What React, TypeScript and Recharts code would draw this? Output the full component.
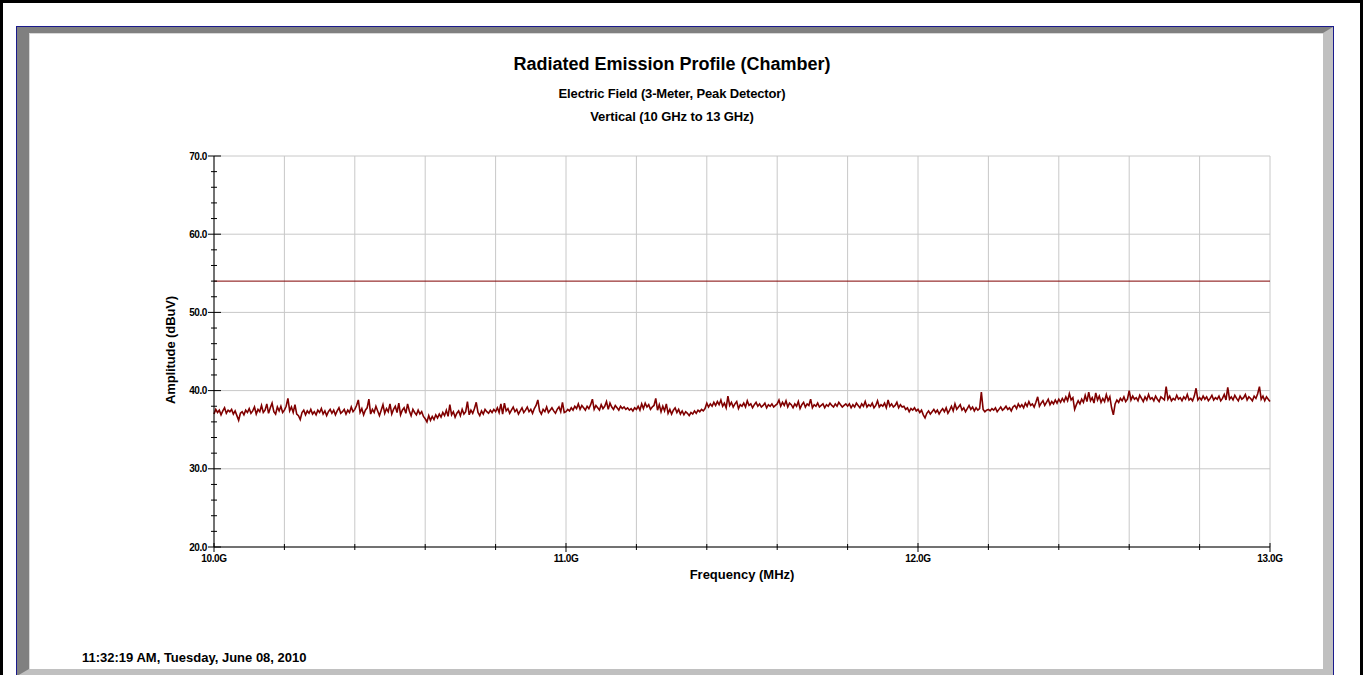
import { LineChart, Line, XAxis, YAxis, CartesianGrid, ReferenceLine } from "recharts";

// sweep: 10 GHz to 13 GHz, one reading every 5 MHz
const FREQ_START = 10.0;
const FREQ_STEP = 0.005;

// peak amplitude (dBuV), one array per 200 MHz band
const amp10_0 = [
  37.0, 37.6, 37.2, 37.5, 36.9, 37.4, 37.8, 37.1, 37.5, 37.3,
  37.6, 37.0, 37.4, 36.8, 36.2, 37.1, 37.3, 36.9, 37.5, 37.2,
  37.7, 37.1, 37.4, 37.9, 37.0, 37.6, 37.3, 38.1, 37.2, 37.5,
  38.3, 37.1, 37.8, 38.4, 37.3, 37.0, 37.9, 37.4, 38.0, 37.2,
];
const amp10_2 = [
  37.5, 38.0, 39.0, 37.4, 37.9, 37.2, 38.2, 37.0, 36.8, 36.3,
  37.2, 37.5, 36.9, 37.4, 37.1, 37.6, 37.0, 37.3, 36.9, 37.5,
  37.2, 37.7, 37.0, 37.4, 36.8, 37.3, 37.6, 37.1, 37.5, 36.9,
  37.4, 37.8, 37.1, 37.3, 37.6, 37.0, 37.5, 37.2, 37.9, 37.3,
];
const amp10_4 = [
  37.6, 38.1, 38.8, 37.2, 37.7, 36.9, 37.5, 37.8, 38.9, 37.0,
  37.6, 37.2, 38.0, 37.4, 36.8, 37.5, 38.2, 37.1, 37.7, 37.3,
  38.3, 37.0, 37.6, 38.0, 37.2, 38.4, 36.9, 37.5, 37.8, 37.1,
  38.3, 37.4, 36.8, 37.6, 37.2, 36.9, 37.5, 37.0, 37.3, 36.7,
];
const amp10_6 = [
  36.4, 36.0, 36.8, 36.2, 36.7, 36.3, 36.9, 36.5, 37.0, 36.6,
  37.2, 36.8, 37.5, 36.7, 38.2, 36.9, 37.3, 36.6, 37.1, 37.4,
  36.8, 37.6, 37.0, 37.3, 38.6, 36.9, 37.5, 37.1, 37.7, 38.5,
  37.2, 36.8, 37.4, 37.0, 37.6, 37.3, 37.1, 37.5, 37.2, 37.6,
];
const amp10_8 = [
  37.3, 37.8, 37.2, 38.3, 37.0, 38.4, 37.4, 37.7, 37.1, 37.5,
  37.9, 37.3, 37.6, 37.0, 37.4, 37.8, 37.2, 37.5, 37.9, 37.3,
  37.6, 37.1, 37.7, 38.1, 38.8, 37.4, 37.0, 37.6, 37.3, 37.9,
  37.2, 37.5, 37.8, 37.4, 37.1, 37.6, 37.9, 37.3, 38.5, 37.2,
];
const amp11_0 = [
  37.3, 37.6, 37.4, 37.8, 37.5, 38.0, 37.7, 38.3, 37.6, 38.1,
  37.8, 37.5, 38.0, 37.7, 38.2, 38.9, 37.6, 38.1, 37.8, 37.5,
  38.2, 37.7, 38.0, 38.6, 37.6, 38.4, 37.9, 37.6, 38.1, 37.8,
  37.5, 38.0, 37.7, 37.9, 37.6, 37.8, 37.5, 37.7, 37.4, 37.8,
];
const amp11_2 = [
  37.6, 38.0, 37.5, 38.3, 37.7, 38.4, 37.9, 38.2, 37.6, 37.9,
  38.1, 39.0, 37.5, 38.2, 37.3, 38.0, 37.4, 38.3, 37.1, 37.6,
  37.0, 37.5, 37.8, 37.2, 37.6, 37.0, 37.4, 36.9, 37.3, 37.1,
  36.8, 37.2, 37.0, 37.4, 37.1, 37.5, 37.3, 37.6, 37.4, 37.7,
];
const amp11_4 = [
  38.4, 37.9, 38.3, 38.0, 38.5, 38.1, 38.6, 38.2, 38.8, 38.0,
  38.4, 37.8, 39.3, 38.1, 38.5, 37.9, 38.3, 38.6, 37.7, 38.2,
  38.0, 38.4, 37.9, 38.7, 38.1, 38.3, 37.8, 38.2, 38.5, 38.0,
  38.3, 37.9, 38.1, 38.4, 37.8, 38.2, 38.0, 38.3, 37.9, 38.1,
];
const amp11_6 = [
  38.3, 38.8, 38.0, 38.5, 38.1, 38.7, 37.9, 38.4, 38.2, 37.8,
  38.3, 38.0, 38.6, 37.7, 38.2, 38.5, 37.9, 38.3, 38.1, 38.9,
  37.8, 38.2, 38.0, 38.4, 37.9, 38.1, 38.3, 37.8, 38.2, 38.0,
  38.4, 38.1, 37.9, 38.3, 38.0, 38.5, 38.2, 37.9, 38.1, 38.3,
];
const amp11_8 = [
  38.0, 38.3, 37.8, 38.2, 37.9, 38.4, 38.1, 37.8, 38.3, 38.0,
  38.6, 37.9, 38.2, 38.0, 38.4, 37.8, 38.1, 38.7, 37.9, 38.2,
  38.0, 38.4, 37.8, 38.8, 38.0, 38.3, 37.9, 38.1, 38.5, 37.8,
  38.2, 37.9, 38.0, 37.6, 37.8, 37.3, 37.7, 37.5, 37.8, 37.4,
];
const amp12_0 = [
  37.6, 37.2, 37.5, 36.9, 36.5, 37.1, 37.4, 37.0, 37.3, 37.6,
  37.2, 37.5, 37.0, 37.4, 37.7, 37.3, 37.8, 37.1, 37.5, 38.0,
  37.4, 38.3, 37.6, 37.9, 38.2, 37.5, 37.8, 37.3, 37.7, 38.1,
  37.6, 37.9, 37.4, 37.8, 37.5, 37.7, 39.8, 37.6, 37.3, 37.5,
];
const amp12_2 = [
  37.6, 37.4, 37.7, 37.5, 37.8, 37.3, 37.6, 37.9, 37.5, 37.7,
  38.0, 37.6, 37.8, 37.4, 37.9, 38.1, 37.7, 38.3, 37.9, 38.2,
  37.8, 38.4, 38.0, 38.6, 38.1, 38.3, 37.9, 38.5, 39.2, 38.0,
  38.4, 38.7, 38.1, 38.5, 38.9, 38.2, 38.6, 38.3, 38.8, 38.4,
];
const amp12_4 = [
  38.9, 38.5, 39.0, 38.6, 39.2, 38.7, 39.6, 38.8, 39.1, 37.6,
  38.2, 38.7, 38.3, 38.9, 38.5, 39.4, 38.6, 39.8, 38.7, 39.1,
  38.4, 39.7, 38.8, 39.3, 38.5, 39.0, 38.6, 39.5, 38.7, 39.2,
  37.8, 36.9, 38.3, 38.8, 38.5, 39.0, 38.7, 39.2, 38.6, 38.9,
];
const amp12_6 = [
  40.0, 38.8, 39.3, 38.9, 39.1, 38.7, 39.4, 39.0, 38.6, 39.2,
  38.8, 39.5, 38.9, 39.1, 38.7, 39.3, 38.9, 38.6, 39.2, 39.0,
  38.8, 40.5, 38.9, 39.3, 38.7, 39.0, 38.8, 39.4, 38.9, 39.1,
  38.7, 39.2, 38.9, 39.5, 38.8, 39.0, 38.7, 39.3, 40.3, 38.8,
];
const amp12_8 = [
  39.1, 38.8, 39.3, 38.9, 39.2, 38.7, 39.0, 39.4, 38.8, 39.1,
  38.9, 39.3, 38.7, 39.0, 39.5, 38.8, 40.4, 38.9, 39.2, 38.8,
  39.4, 39.0, 38.7, 39.3, 38.9, 39.1, 39.5, 38.8, 39.2, 39.0,
  38.7, 39.3, 39.0, 39.6, 40.5, 38.9, 39.3, 38.7, 39.2, 38.9,
  38.6,
];

const LIMIT_DBUV = 54;

const X_TICKS = [10, 10.2, 10.4, 10.6, 10.8, 11, 11.2, 11.4, 11.6, 11.8, 12, 12.2, 12.4, 12.6, 12.8, 13];
const X_LABELS = [10, 11, 12, 13];
const Y_MAJOR = [20, 30, 40, 50, 60, 70];
const Y_TICKS = [
  20, 22, 24, 26, 28, 30, 32, 34, 36, 38, 40, 42, 44, 46, 48,
  50, 52, 54, 56, 58, 60, 62, 64, 66, 68, 70,
];

const sweep = [
  amp10_0, amp10_2, amp10_4, amp10_6, amp10_8,
  amp11_0, amp11_2, amp11_4, amp11_6, amp11_8,
  amp12_0, amp12_2, amp12_4, amp12_6, amp12_8,
].flat();

const data = sweep.map((amp, i) => ({ freq: FREQ_START + i * FREQ_STEP, amp }));

const FONT = "'Liberation Sans', Arial, sans-serif";
const TRACE = "#800000";

const isLabeled = (v: number) => X_LABELS.some((l) => Math.abs(l - v) < 1e-6);
const isMajorY = (v: number) => Y_MAJOR.includes(v);

function XTick(props: any) {
  const { x, y, payload } = props;
  const major = isLabeled(payload.value);
  return (
    <g>
      <line x1={x} x2={x} y1={y - (major ? 4 : 3)} y2={y + (major ? 5 : 3)} stroke="#000" strokeWidth={1} />
      {major && (
        <text
          x={x}
          y={y + 15}
          textAnchor="middle"
          fontFamily={FONT}
          fontWeight="bold"
          fontSize={10}
          letterSpacing={-0.4}
          fill="#000"
        >
          {payload.value.toFixed(1)}G
        </text>
      )}
    </g>
  );
}

function YTick(props: any) {
  const { x, y, payload } = props;
  const major = isMajorY(payload.value);
  return (
    <g>
      <line x1={x - (major ? 6 : 3)} x2={x + (major ? 7 : 3)} y1={y} y2={y} stroke="#000" strokeWidth={1} />
      {major && (
        <text
          x={x - 7}
          y={y + 3.5}
          textAnchor="end"
          fontFamily={FONT}
          fontWeight="bold"
          fontSize={10}
          letterSpacing={-0.4}
          fill="#000"
        >
          {payload.value.toFixed(1)}
        </text>
      )}
    </g>
  );
}

const centered = (top: number, size: number, spacing = 0) => ({
  position: "absolute" as const,
  left: 0,
  width: 1344,
  top,
  textAlign: "center" as const,
  fontSize: size,
  lineHeight: `${size}px`,
  letterSpacing: spacing,
  fontWeight: "bold" as const,
  whiteSpace: "nowrap" as const,
});

export default function App() {
  return (
    <div
      style={{
        position: "absolute",
        left: 0,
        top: 0,
        width: 1364,
        height: 675,
        overflow: "hidden",
        background: "#fff",
        fontFamily: FONT,
        color: "#000",
      }}
    >
      {/* outer black border */}
      <div style={{ position: "absolute", left: 0, top: 0, width: 1357, height: 720, border: "3px solid #000" }} />

      {/* bevelled frame */}
      <div
        style={{
          position: "absolute",
          left: 16,
          top: 26,
          width: 1316,
          height: 649,
          border: "1px solid #1a1a8c",
        }}
      >
        <div
          style={{
            boxSizing: "border-box",
            width: "100%",
            height: "100%",
            borderTop: "6px solid #808080",
            borderLeft: "12px solid #808080",
            borderRight: "10px solid #c0c0c0",
            borderBottom: "7px solid #c0c0c0",
          }}
        >
          <div
            style={{
              boxSizing: "border-box",
              width: "100%",
              height: "100%",
              borderTop: "1px solid #d8d8d8",
              borderLeft: "1px solid #d8d8d8",
              background: "#fff",
            }}
          />
        </div>
      </div>

      <div style={centered(55, 18)}>Radiated Emission Profile (Chamber)</div>
      <div style={centered(87, 13, -0.15)}>Electric Field (3-Meter, Peak Detector)</div>
      <div style={centered(110, 13, -0.1)}>Vertical (10 GHz to 13 GHz)</div>

      <div style={{ position: "absolute", left: 0, top: 0 }}>
        <LineChart width={1364} height={675} data={data} margin={{ top: 156, right: 94, bottom: 98, left: 164 }}>
          <CartesianGrid
            stroke="#c8c8c8"
            strokeWidth={1}
            horizontalValues={Y_MAJOR}
            verticalValues={X_TICKS}
          />
          <XAxis
            type="number"
            dataKey="freq"
            domain={[10, 13]}
            ticks={X_TICKS}
            interval={0}
            height={30}
            axisLine={{ stroke: "#000", strokeWidth: 1 }}
            tickLine={false}
            tickSize={0}
            tickMargin={0}
            tick={(p: any) => <XTick {...p} />}
          />
          <YAxis
            type="number"
            domain={[20, 70]}
            ticks={Y_TICKS}
            interval={0}
            width={50}
            axisLine={{ stroke: "#000", strokeWidth: 1 }}
            tickLine={false}
            tickSize={0}
            tickMargin={0}
            tick={(p: any) => <YTick {...p} />}
          />
          <ReferenceLine y={LIMIT_DBUV} stroke={TRACE} strokeWidth={1} ifOverflow="extendDomain" />
          <Line
            type="linear"
            dataKey="amp"
            stroke={TRACE}
            strokeWidth={1.6}
            dot={false}
            isAnimationActive={false}
          />
        </LineChart>
      </div>

      <div
        style={{
          position: "absolute",
          left: 170,
          top: 350,
          transform: "translate(-50%, -50%) rotate(-90deg)",
          fontSize: 13,
          letterSpacing: -0.1,
          fontWeight: "bold",
          whiteSpace: "nowrap",
        }}
      >
        Amplitude (dBuV)
      </div>
      <div style={{ ...centered(568, 13), left: 214, width: 1056 }}>Frequency (MHz)</div>
      <div
        style={{
          position: "absolute",
          left: 82,
          top: 651,
          fontSize: 13,
          lineHeight: "13px",
          fontWeight: "bold",
          whiteSpace: "nowrap",
        }}
      >
        11:32:19 AM, Tuesday, June 08, 2010
      </div>
    </div>
  );
}
